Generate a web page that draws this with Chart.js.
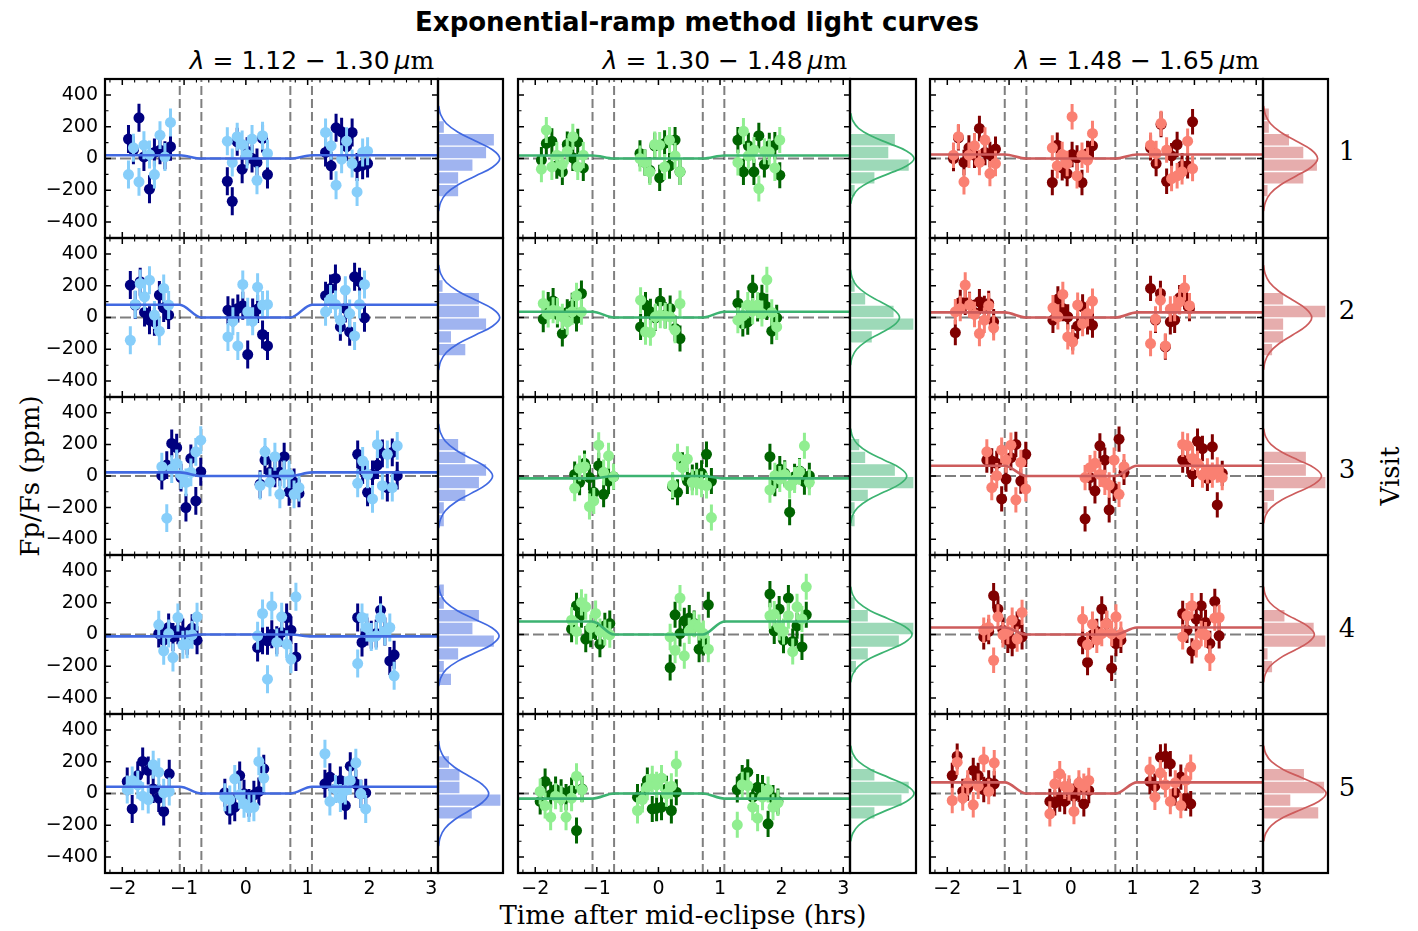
<!DOCTYPE html>
<html>
<head>
<meta charset="utf-8">
<title>Exponential-ramp method light curves</title>
<script src="https://cdn.jsdelivr.net/npm/chart.js@4/dist/chart.umd.min.js"></script>
<style>
  html, body { margin: 0; padding: 0; background: #fff; }
  #fig { position: relative; width: 1418px; height: 931px; overflow: hidden; }
  #fig canvas { position: absolute; }
  .lbl { position: absolute; transform: translate(-50%, -50%); white-space: nowrap; color: #000; }
  .title { font: bold 26px 'DejaVu Sans', sans-serif; }
  .ctitle { font: 25px 'DejaVu Sans', sans-serif; }
  .rm { font-family: 'DejaVu Serif', serif; }
  .serif { font: 26px 'DejaVu Serif', serif; }
  .rot { transform: translate(-50%, -50%) rotate(-90deg); }
</style>
</head>
<body>
<div id="fig">
  <div class="lbl title" style="left:697px; top:22px;">Exponential-ramp method light curves</div>
  <div class="lbl ctitle" style="left:312px; top:60px;"><i>λ</i> = 1.12 − 1.30&thinsp;<i>μ</i><span class="rm">m</span></div>
  <div class="lbl ctitle" style="left:725px; top:60px;"><i>λ</i> = 1.30 − 1.48&thinsp;<i>μ</i><span class="rm">m</span></div>
  <div class="lbl ctitle" style="left:1137px; top:60px;"><i>λ</i> = 1.48 − 1.65&thinsp;<i>μ</i><span class="rm">m</span></div>
  <div class="lbl serif rot" style="left:30px; top:476px;">Fp/Fs (ppm)</div>
  <div class="lbl serif" style="left:683px; top:915px;">Time after mid-eclipse (hrs)</div>
  <div class="lbl serif rot" style="left:1390px; top:476px;">Visit</div>
  <div class="lbl serif" style="left:1347px; top:151px;">1</div>
  <div class="lbl serif" style="left:1347px; top:310px;">2</div>
  <div class="lbl serif" style="left:1347px; top:469px;">3</div>
  <div class="lbl serif" style="left:1347px; top:628px;">4</div>
  <div class="lbl serif" style="left:1347px; top:787px;">5</div>
</div>
<script>
'use strict';

// time of each exposure, hours from mid-eclipse (three HST orbits per visit)
const timeV1 = [-1.90,-1.82,-1.73,-1.65,-1.56,-1.48,-1.39,-1.31,-1.22, -0.30,-0.22,-0.14,-0.06,0.02,0.10,0.18,0.27,0.35, 1.29,1.38,1.46,1.55,1.63,1.72,1.80,1.89,1.97];
const timeV2 = [-1.87,-1.79,-1.71,-1.64,-1.56,-1.48,-1.40,-1.33,-1.25, -0.29,-0.21,-0.13,-0.05,0.03,0.11,0.19,0.27,0.35, 1.29,1.37,1.45,1.53,1.61,1.68,1.76,1.84,1.92];
const timeV3 = [-1.36,-1.28,-1.20,-1.12,-1.05,-0.97,-0.89,-0.81,-0.73, 0.23,0.31,0.39,0.47,0.55,0.62,0.70,0.78,0.86, 1.81,1.89,1.97,2.05,2.13,2.21,2.29,2.37,2.45];
const timeV4 = [-1.41,-1.33,-1.25,-1.18,-1.10,-1.02,-0.95,-0.87,-0.79, 0.19,0.27,0.35,0.42,0.50,0.58,0.66,0.73,0.81, 1.81,1.88,1.96,2.03,2.11,2.18,2.25,2.33,2.40];
const timeV5 = [-1.92,-1.84,-1.75,-1.67,-1.58,-1.50,-1.41,-1.33,-1.24, -0.34,-0.26,-0.18,-0.10,-0.03,0.05,0.13,0.21,0.29, 1.28,1.36,1.45,1.53,1.61,1.69,1.78,1.86,1.94];

// Fp/Fs in ppm, 1.12-1.30 um
const darkBlueV1  = [122,52,256,10,-193,38,52,21,74, -143,-269,105,-67,46,0,-25,126,-101, 38,-46,193,168,74,164,-53,-42,-32];
const lightBlueV1 = [-101,67,-147,84,25,-101,147,10,227, 109,-25,137,88,25,122,-137,143,32, 164,80,-168,-4,109,-32,-210,38,46];
const darkBlueV2  = [204,78,225,32,-17,-27,141,60,15, 46,32,57,74,-233,32,53,-107,-179, 137,183,246,-59,57,-90,256,225,-2];
const lightBlueV2 = [-143,82,214,130,235,15,-86,183,78, -122,-23,-179,208,36,-23,191,78,82, 36,116,82,-17,172,25,-116,82,208];
const darkBlueV3  = [2,69,206,179,-10,-200,111,-158,27, -52,101,23,17,23,122,-100,-40,-110, 137,38,-103,10,69,143,-73,149,2];
const lightBlueV3 = [59,-267,44,80,6,-40,23,153,227, -61,153,-40,122,-116,10,10,-116,-73, -46,95,10,-145,200,-61,137,-73,191];
const darkBlueV4  = [6,-36,44,-15,27,13,-40,40,-36, -82,-36,-40,2,-36,13,107,27,-141, 107,-50,19,-2,6,153,19,-166,-128];
const lightBlueV4 = [61,-103,6,-145,107,-65,-61,-2,111, -8,132,-281,181,-50,111,-61,-155,237, -183,107,44,-15,-8,107,19,44,-260];
const darkBlueV5  = [76,-97,113,202,145,29,-29,-113,124, 4,-107,-86,113,-2,-59,-8,13,155, 61,103,29,82,-76,172,61,-2,4];
const lightBlueV5 = [25,82,55,-17,-38,181,134,4,13, -23,-38,92,-8,-65,-92,-86,202,97, 250,-50,29,-29,19,82,193,-2,-97];

// Fp/Fs in ppm, 1.30-1.48 um
const darkGreenV1  = [-10,95,109,-46,-84,88,4,105,-59, 32,-25,-74,80,-122,95,-46,116,-84, 116,-84,80,-84,143,-38,80,84,-105];
const lightGreenV1 = [-67,179,-53,21,-38,46,137,-53,21, 0,-25,-84,88,84,-53,116,17,-84, -25,172,17,53,-189,46,42,-59,116];
const darkGreenV2  = [-10,78,103,19,-101,32,74,-6,151, -59,78,36,-2,103,15,57,-69,-132, 90,-38,-27,187,57,124,67,-86,-2];
const lightGreenV2 = [88,19,46,40,4,-27,36,137,36, 109,-90,-95,4,15,10,4,-80,88, -17,10,78,40,78,25,237,32,-59];
const darkGreenV3  = [10,-40,80,-10,-103,65,-116,-32,-4, -67,-103,69,-32,-10,2,17,137,-32, 122,-46,44,17,-229,-4,32,-36,2];
const lightGreenV3 = [-78,48,59,-193,-158,195,23,128,-4, -57,122,53,107,-40,-40,-52,-61,-263, -88,2,-19,10,-61,-25,27,191,-40];
const darkGreenV4  = [34,181,124,-29,2,48,-61,55,69, -208,124,6,86,103,69,-92,-50,187, 254,23,160,-36,229,-44,55,-78,124];
const lightGreenV4 = [90,19,202,174,44,132,19,13,-2, -15,-99,229,-134,23,65,44,6,-92, 118,128,44,19,118,-107,174,97,300];
const darkGreenV5  = [-50,76,-8,25,8,-23,19,-233,29, -23,-17,82,-97,-92,-86,29,-107,8, 25,97,134,-23,40,34,-191,-29,-50];
const lightGreenV5 = [13,-76,-149,-17,-34,-149,-29,109,25, -107,-38,40,92,55,97,-2,46,187, -197,55,50,-86,-155,-23,25,-86,-59];

// Fp/Fs in ppm, 1.48-1.65 um
const darkRedV1  = [0,130,-25,67,21,189,38,25,59, -151,84,-59,-95,25,4,-151,32,80, 67,-32,214,-143,17,88,-46,-46,231];
const lightRedV1 = [21,137,-147,21,80,-25,116,-95,-32, 67,-46,25,-32,263,-109,21,-10,158, 84,32,221,53,-126,-109,-84,109,-63];
const darkRedV2  = [-95,95,95,82,32,99,57,88,-27, -17,116,57,4,-128,-53,67,-27,-48, 183,-17,151,-185,-27,-17,124,130,57];
const lightRedV2 = [36,57,204,78,19,-101,-17,74,-65, 61,4,145,-122,-153,78,-38,25,103, -164,-10,109,-179,53,57,99,187,74];
const darkRedV3  = [101,95,80,-145,-19,116,200,-32,137, -271,-10,-94,191,101,-214,-78,233,23, 101,95,10,220,174,-15,185,-183,17];
const lightRedV3 = [153,-73,2,164,101,195,-151,86,-82, -10,53,80,10,-40,-57,101,-116,59, 200,191,111,80,6,32,6,38,-10];
const darkRedV4  = [-15,19,244,160,27,-36,-57,65,-15, -44,-176,-2,19,160,69,-212,-57,-36, 132,27,-103,97,181,76,-57,208,-8];
const lightRedV4 = [27,44,-162,111,-2,19,90,-29,139, 97,-65,65,-36,6,69,6,111,2, -15,118,181,-65,6,-2,-149,103,107];
const darkRedV5  = [113,235,13,34,145,113,25,67,61, -50,-59,-34,-50,13,-17,25,-65,19, 76,46,229,235,187,4,103,-29,-65];
const lightRedV5 = [-44,197,-29,67,-71,46,214,13,193, -128,61,124,46,34,-113,67,46,82, 151,-23,130,55,-50,67,-76,82,166];

// 1-sigma error bar per channel (ppm)
const errBars = [88, 82, 80];

// eclipse model: out-of-eclipse level per visit (ppm) and contact times (hrs)
const depthBlue  = [20, 80, 23, -12, 42];
const depthGreen = [19, 36, -15, 82, -32];
const depthRed   = [25, 32, 65, 44, 70];
const contactTimes = [-1.07, -0.72, 0.72, 1.07];

// residual histograms: bin centres (ppm) and bar lengths (share of panel width)
const histBins = [278, 198, 118, 38, -42, -122, -202, -282];
const histBlueV1  = [0, 0.10, 0.87, 0.75, 0.54, 0.32, 0.32, 0];
const histBlueV2  = [0, 0.08, 0.64, 0.64, 0.75, 0.21, 0.43, 0];
const histBlueV3  = [0, 0.32, 0.43, 0.75, 0.64, 0.43, 0.10, 0.10];
const histBlueV4  = [0.10, 0.10, 0.64, 0.54, 0.87, 0.32, 0.10, 0.21];
const histBlueV5  = [0, 0.18, 0.34, 0.34, 0.97, 0.53, 0, 0];
const histGreenV1 = [0, 0, 0.69, 0.59, 0.90, 0.38, 0.08, 0];
const histGreenV2 = [0, 0.08, 0.24, 0.67, 0.97, 0.34, 0, 0];
const histGreenV3 = [0, 0.15, 0.24, 0.69, 0.97, 0.28, 0.08, 0.08];
const histGreenV4 = [0, 0.08, 0.28, 0.97, 0.75, 0.28, 0.10, 0];
const histGreenV5 = [0, 0.05, 0.38, 0.90, 0.79, 0.38, 0, 0];
const histRedV1   = [0.10, 0.10, 0.41, 0.63, 0.84, 0.63, 0.08, 0];
const histRedV2   = [0, 0, 0.32, 0.97, 0.32, 0.32, 0.15, 0];
const histRedV3   = [0, 0, 0.67, 0.67, 0.97, 0.18, 0.08, 0];
const histRedV4   = [0, 0, 0.34, 0.79, 0.97, 0.08, 0.15, 0];
const histRedV5   = [0, 0, 0.64, 0.95, 0.43, 0.86, 0, 0];

// gaussian overlay: peak (share of panel width), width and centre (ppm)
const peakBlue   = [0.95, 0.95, 0.84, 0.94, 0.78];
const peakGreen  = [0.97, 0.75, 0.86, 0.94, 0.97];
const peakRed    = [0.84, 0.75, 0.90, 0.79, 0.97];
const sigmaBlue  = [110, 110, 110, 105, 110];
const sigmaGreen = [95, 100, 100, 100, 100];
const sigmaRed   = [110, 110, 100, 100, 100];
const centerBlue  = [0, 0, 0, -10, 0];
const centerGreen = [0, 0, 0, 0, 0];
const centerRed   = [0, 0, 0, 0, 0];
const bellSteps = [-3, -2.5, -2, -1.5, -1, -0.5, 0, 0.5, 1, 1.5, 2, 2.5, 3];
const bellShape = [0.011, 0.044, 0.135, 0.325, 0.607, 0.882, 1, 0.882, 0.607, 0.325, 0.135, 0.044, 0.011];

// axes
const xTickValues = [-2, -1, 0, 1, 2, 3];
const yTickValues = [400, 200, 0, -200, -400];
const X_MIN = -2.28, X_MAX = 3.11, Y_MIN = -500, Y_MAX = 500;

const visitTimes = [timeV1, timeV2, timeV3, timeV4, timeV5];
const darkSeries = [
  [darkBlueV1, darkBlueV2, darkBlueV3, darkBlueV4, darkBlueV5],
  [darkGreenV1, darkGreenV2, darkGreenV3, darkGreenV4, darkGreenV5],
  [darkRedV1, darkRedV2, darkRedV3, darkRedV4, darkRedV5]
];
const lightSeries = [
  [lightBlueV1, lightBlueV2, lightBlueV3, lightBlueV4, lightBlueV5],
  [lightGreenV1, lightGreenV2, lightGreenV3, lightGreenV4, lightGreenV5],
  [lightRedV1, lightRedV2, lightRedV3, lightRedV4, lightRedV5]
];
const depths = [depthBlue, depthGreen, depthRed];
const histCounts = [
  [histBlueV1, histBlueV2, histBlueV3, histBlueV4, histBlueV5],
  [histGreenV1, histGreenV2, histGreenV3, histGreenV4, histGreenV5],
  [histRedV1, histRedV2, histRedV3, histRedV4, histRedV5]
];
const bellPeaks = [peakBlue, peakGreen, peakRed];
const bellSigmas = [sigmaBlue, sigmaGreen, sigmaRed];
const bellCenters = [centerBlue, centerGreen, centerRed];

const darkColor  = ['#000080', '#006400', '#800000'];
const lightColor = ['#87CEFA', '#90EE90', '#FA8072'];
const modelColor = ['#4169E1', '#3CB371', '#CD5C5C'];
const histFill   = ['rgba(65,105,225,0.5)', 'rgba(60,179,113,0.5)', 'rgba(205,92,92,0.5)'];

// panel geometry (px); the top margin leaves room for the y labels' own padding
const colLeft = [105, 518, 930];
const mainWidth = [333, 332, 333];
const histWidth = [65, 66, 65];
const rowEdges = [79, 238, 397, 555, 714, 873];
const PL = 80, PR = 8, PT = 26, PB = 40, HP = 6;

const xMinor = [], yMinor = [-300, -100, 100, 300];
for (let v = -2.2; v < 3.05; v += 0.2) {
  const r = Math.round(v * 10) / 10;
  if (Math.abs(r - Math.round(r)) > 0.01) xMinor.push(r);
}

const minus = v => String(v).replace('-', '\u2212');

// box around each axes plus inward ticks on all four sides
const framePlugin = {
  id: 'frame',
  afterDraw(chart, args, opts) {
    const { ctx, chartArea: a } = chart;
    const sx = chart.scales.x, sy = chart.scales.y;
    ctx.save();
    ctx.strokeStyle = '#000';
    if (opts.ticks) {
      const drawSet = (vals, len) => {
        ctx.beginPath();
        vals.forEach(v => {
          const px = sx.getPixelForValue(v);
          ctx.moveTo(px, a.bottom); ctx.lineTo(px, a.bottom - len);
          ctx.moveTo(px, a.top); ctx.lineTo(px, a.top + len);
        });
        ctx.stroke();
      };
      const drawSetY = (vals, len) => {
        ctx.beginPath();
        vals.forEach(v => {
          const py = sy.getPixelForValue(v);
          ctx.moveTo(a.left, py); ctx.lineTo(a.left + len, py);
          ctx.moveTo(a.right, py); ctx.lineTo(a.right - len, py);
        });
        ctx.stroke();
      };
      ctx.lineWidth = 1.5;
      drawSet(xTickValues, 6);
      drawSetY(yTickValues, 6);
      ctx.lineWidth = 1.1;
      drawSet(xMinor, 3.5);
      drawSetY(yMinor, 3.5);
    }
    ctx.lineWidth = 2.2;
    ctx.strokeRect(a.left, a.top, a.right - a.left, a.bottom - a.top);
    ctx.restore();
  }
};

// vertical error bars, drawn just before the markers of the same series
const errorBarPlugin = {
  id: 'errorBars',
  beforeDatasetDraw(chart, args) {
    const ds = chart.data.datasets[args.index];
    if (!ds.yErr) return;
    const sy = chart.scales.y, ctx = chart.ctx;
    ctx.save();
    ctx.strokeStyle = ds.backgroundColor;
    ctx.lineWidth = 3;
    ctx.beginPath();
    args.meta.data.forEach((pt, i) => {
      const v = ds.data[i].y;
      ctx.moveTo(pt.x, sy.getPixelForValue(v + ds.yErr));
      ctx.lineTo(pt.x, sy.getPixelForValue(v - ds.yErr));
    });
    ctx.stroke();
    ctx.restore();
  }
};

Chart.register(framePlugin, errorBarPlugin);

const fig = document.getElementById('fig');
function addCanvas(left, top, w, h) {
  const c = document.createElement('canvas');
  c.width = w; c.height = h;
  c.style.left = left + 'px'; c.style.top = top + 'px';
  c.style.width = w + 'px'; c.style.height = h + 'px';
  fig.appendChild(c);
  return c;
}

const tickFont = { family: 'DejaVu Sans', size: 19 };

function lightCurveChart(col, row) {
  const rowH = rowEdges[row + 1] - rowEdges[row];
  const cv = addCanvas(colLeft[col] - PL, rowEdges[row] - PT, mainWidth[col] + PL + PR, rowH + PT + PB);
  const t = visitTimes[row];
  const d = depths[col][row];
  const toPoints = vals => vals.map((v, i) => ({ x: t[i], y: v }));
  const modelX = [X_MIN, ...contactTimes, X_MAX];
  const modelY = [d, d, 0, 0, d, d];
  const guide = { type: 'line', pointRadius: 0, fill: false, order: 3 };

  new Chart(cv, {
    type: 'scatter',
    data: {
      datasets: [
        { type: 'line', data: modelX.map((x, i) => ({ x, y: modelY[i] })), borderColor: modelColor[col],
          borderWidth: 2.6, pointRadius: 0, cubicInterpolationMode: 'monotone', order: 0 },
        { type: 'scatter', data: toPoints(lightSeries[col][row]), backgroundColor: lightColor[col],
          borderColor: lightColor[col], borderWidth: 0, pointRadius: 5.5, yErr: errBars[col], order: 1 },
        { type: 'scatter', data: toPoints(darkSeries[col][row]), backgroundColor: darkColor[col],
          borderColor: darkColor[col], borderWidth: 0, pointRadius: 5.5, yErr: errBars[col], order: 2 },
        Object.assign({ data: [{ x: X_MIN, y: 0 }, { x: X_MAX, y: 0 }], borderColor: 'rgba(0,0,0,0.5)',
          borderWidth: 2.2, borderDash: [11, 4] }, guide),
        ...contactTimes.map(c => Object.assign({ data: [{ x: c, y: Y_MIN }, { x: c, y: Y_MAX }],
          borderColor: 'rgba(0,0,0,0.5)', borderWidth: 2, borderDash: [9, 4] }, guide))
      ]
    },
    options: {
      animation: false,
      responsive: false,
      layout: { padding: { left: 0, top: PT, right: PR, bottom: 0 } },
      plugins: { legend: { display: false }, tooltip: { enabled: false }, frame: { ticks: true } },
      scales: {
        x: {
          type: 'linear', min: X_MIN, max: X_MAX,
          grid: { display: false, drawTicks: false }, border: { display: false },
          ticks: { display: row === 4, font: tickFont, color: '#000', padding: 5, callback: minus, maxRotation: 0 },
          afterBuildTicks: s => { s.ticks = xTickValues.map(v => ({ value: v })); },
          afterFit: s => { s.height = PB; }
        },
        y: {
          type: 'linear', min: Y_MIN, max: Y_MAX,
          grid: { display: false, drawTicks: false }, border: { display: false },
          ticks: { display: col === 0, font: tickFont, color: '#000', padding: 7, callback: minus },
          afterBuildTicks: s => { s.ticks = yTickValues.map(v => ({ value: v })); },
          afterFit: s => { s.width = PL; }
        }
      }
    }
  });
}

function histChart(col, row) {
  const rowH = rowEdges[row + 1] - rowEdges[row];
  const cv = addCanvas(colLeft[col] + mainWidth[col] - HP, rowEdges[row] - HP, histWidth[col] + 2 * HP, rowH + 2 * HP);
  const peak = bellPeaks[col][row], sig = bellSigmas[col][row], mu = bellCenters[col][row];
  const bell = bellSteps.map((k, i) => ({ x: peak * bellShape[i], y: mu + k * sig }));
  const bars = histBins.map((b, i) => ({ x: histCounts[col][row][i], y: b }));

  new Chart(cv, {
    type: 'bar',
    data: {
      datasets: [
        { type: 'line', data: bell, borderColor: modelColor[col], borderWidth: 1.7, pointRadius: 0,
          tension: 0.4, order: 0 },
        { type: 'bar', data: bars, backgroundColor: histFill[col], borderColor: 'rgba(255,255,255,0.6)',
          borderWidth: 1, borderSkipped: false, barPercentage: 1, categoryPercentage: 1, order: 1 }
      ]
    },
    options: {
      indexAxis: 'y',
      animation: false,
      responsive: false,
      layout: { padding: HP },
      plugins: { legend: { display: false }, tooltip: { enabled: false }, frame: { ticks: false } },
      scales: {
        x: { type: 'linear', display: false, min: 0, max: 1, offset: false, grid: { offset: false } },
        y: { type: 'linear', display: false, min: Y_MIN, max: Y_MAX, offset: false, grid: { offset: false } }
      }
    }
  });
}

for (let col = 0; col < 3; col++) {
  for (let row = 0; row < 5; row++) {
    lightCurveChart(col, row);
    histChart(col, row);
  }
}
</script>
</body>
</html>
